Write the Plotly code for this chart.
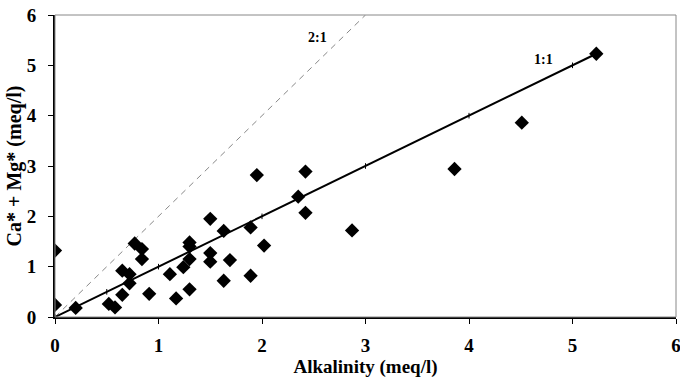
import plotly.graph_objects as go

alkalinity = [0.0, 0.0, 0.2, 0.52, 0.58, 0.65, 0.65, 0.72, 0.72, 0.77, 0.84, 0.84, 0.91,
              1.11, 1.17, 1.24, 1.30, 1.30, 1.30, 1.30, 1.50, 1.50, 1.50, 1.63, 1.63, 1.69,
              1.89, 1.89, 1.95, 2.02, 2.35, 2.42, 2.42, 2.87, 3.86, 4.51, 5.23]
ca_mg = [1.32, 0.24, 0.18, 0.26, 0.19, 0.44, 0.92, 0.85, 0.67, 1.46, 1.35, 1.15, 0.46,
         0.85, 0.37, 0.99, 1.48, 1.40, 1.15, 0.55, 1.95, 1.27, 1.10, 1.71, 0.72, 1.13,
         1.78, 0.82, 2.82, 1.42, 2.39, 2.89, 2.07, 1.72, 2.94, 3.86, 5.23]

line11_x = [0, 0.5, 1, 2, 3, 4, 5, 5.25]
line11_y = [0, 0.5, 1, 2, 3, 4, 5, 5.25]
line21_x = [0, 3]
line21_y = [0, 6]

tick_vals = [0, 1, 2, 3, 4, 5, 6]
tick_text = ["<b>%d</b>" % v for v in tick_vals]

font_fam = "Liberation Serif, Times New Roman, serif"

fig = go.Figure()
fig.add_trace(go.Scatter(x=line21_x, y=line21_y, mode="lines",
                         line=dict(color="#888888", width=1, dash="6px,5px"),
                         showlegend=False, hoverinfo="skip"))
fig.add_trace(go.Scatter(x=line11_x, y=line11_y, mode="lines+markers",
                         line=dict(color="black", width=2),
                         marker=dict(symbol="line-ns", size=4, line=dict(width=1, color="black")),
                         showlegend=False))
fig.add_trace(go.Scatter(x=alkalinity, y=ca_mg, mode="markers",
                         marker=dict(symbol="diamond", size=11, color="black"),
                         showlegend=False))

fig.add_annotation(x=2.54, y=5.55, text="<b>2:1</b>", showarrow=False,
                   font=dict(family=font_fam, size=14, color="black"))
fig.add_annotation(x=4.72, y=5.12, text="<b>1:1</b>", showarrow=False,
                   font=dict(family=font_fam, size=14, color="black"))

fig.update_layout(
    width=680, height=379,
    margin=dict(l=55, r=4, t=15, b=62),
    paper_bgcolor="white", plot_bgcolor="white",
    font=dict(family=font_fam, size=19, color="black"),
    shapes=[dict(type="rect", xref="paper", yref="paper", x0=0, y0=0, x1=1, y1=1,
                 line=dict(color="#888888", width=1))],
)
fig.update_xaxes(range=[0, 6], tickvals=tick_vals, ticktext=tick_text,
                 showgrid=False, zeroline=False, showline=True, linecolor="black", linewidth=2,
                 ticks="outside", ticklen=5, tickcolor="black",
                 ticklabelstandoff=5, ticklabeloverflow="allow", automargin=False,
                 tickfont=dict(family=font_fam, size=19),
                 title=dict(text="<b>Alkalinity (meq/l)</b>", standoff=0,
                            font=dict(family=font_fam, size=19)))
fig.update_yaxes(range=[0, 6], tickvals=tick_vals, ticktext=tick_text,
                 showgrid=False, zeroline=False, showline=True, linecolor="black", linewidth=2,
                 ticks="outside", ticklen=5, tickcolor="black",
                 ticklabelstandoff=8, ticklabeloverflow="allow", automargin=False,
                 tickfont=dict(family=font_fam, size=19),
                 title=dict(text="<b>Ca* + Mg* (meq/l)</b>", standoff=0,
                            font=dict(family=font_fam, size=20)))

fig.write_html("out.html", config={"displayModeBar": False},
               post_script="document.body.style.margin='0';document.body.style.overflow='hidden';")
